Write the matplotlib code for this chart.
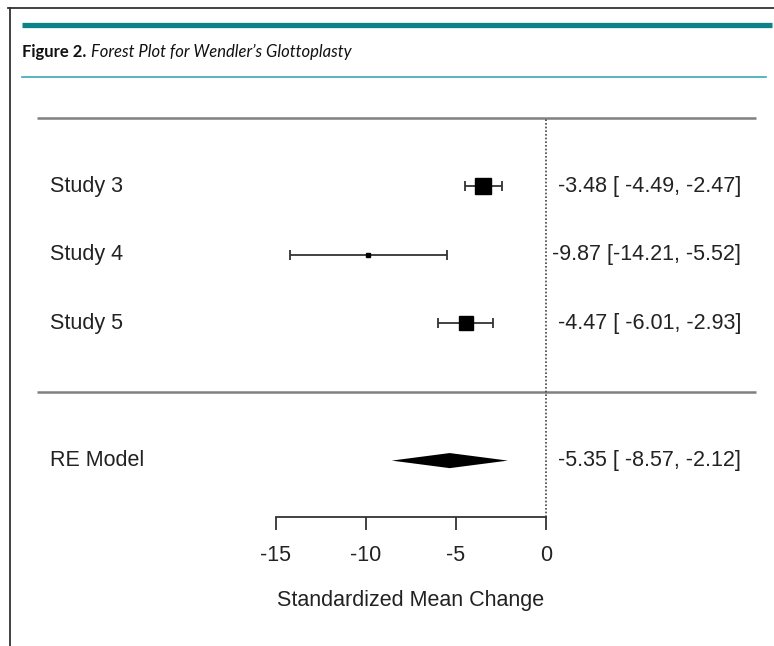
import matplotlib.pyplot as plt
from matplotlib.lines import Line2D
import numpy as np

# forest plot data
studies = ['Study 3', 'Study 4', 'Study 5']
est = [-3.48, -9.87, -4.47]
ci_lo = [-4.49, -14.21, -6.01]
ci_hi = [-2.47, -5.52, -2.93]
re_label = 'RE Model'
re_est = -5.35
re_lo = -8.57
re_hi = -2.12
xticks = [-15, -10, -5, 0]
xlabel = 'Standardized Mean Change'
tau2 = 6.6  # between-study variance, guessed from the box sizes

W, H = 774, 646
fig = plt.figure(figsize=(W / 100, H / 100), dpi=100)
plt.rcParams['font.family'] = ['Liberation Sans', 'DejaVu Sans']

# pixel helpers for the layout: x0 at px 546, 18 px per unit; row 0 at px 392, 68.6 px per row
def px2x(p):
	return (p - 546) / 18.0

def px2row(p):
	return (392 - p) / 68.6

# ---- frame and header ----
fig.add_artist(Line2D([8 / W, 1], [1 - 7.5 / H] * 2, color='#333333', lw=1.3))
fig.add_artist(Line2D([9.5 / W] * 2, [0, 1 - 7.5 / H], color='#333333', lw=1.3))
fig.add_artist(Line2D([22 / W, 772 / W], [1 - 25.3 / H] * 2, color='#0b8389', lw=3.8, solid_capstyle='butt'))
fig.add_artist(Line2D([22 / W, 766 / W], [1 - 76.5 / H] * 2, color='#3aa9b0', lw=1.2))

ax = fig.add_axes([0, (H - 517) / H, 1, (517 - 100) / H])
ax.set_xlim(px2x(0), px2x(W))
ax.set_ylim(px2row(517), px2row(100))

t1 = ax.text(22 / W, 1 - 60 / H, 'Figure 2.', transform=fig.transFigure, fontfamily='Lato',
	fontweight='bold', fontsize=12, color='#111111', va='bottom', ha='left')
ax.annotate('Forest Plot for Wendler\u2019s Glottoplasty', xy=(1, 0), xycoords=t1,
	xytext=(3, 0), textcoords='offset points', fontfamily='Lato', fontstyle='italic',
	fontsize=12, color='#111111', va='bottom', ha='left')

# ---- forest plot ----
k = len(studies)
rows = np.arange(k, 0, -1)
re_row = -1
fs = 15.5
tcol = '#222222'

lx, rx = px2x(37), px2x(756)
ax.hlines([k + 1, 0], lx, rx, color='#808080', lw=1.8)
ax.vlines(0, px2row(517), k + 1, color='#444444', lw=1.2, linestyles=(0, (1, 1.2)))

se = (np.array(ci_hi) - np.array(ci_lo)) / (2 * 1.96)
w = 1.0 / (se ** 2 + tau2)
size_px = 3.5 + 12.5 * (w - w.min()) / (w.max() - w.min())

for i in range(k):
	ax.errorbar(est[i], rows[i], xerr=[[est[i] - ci_lo[i]], [ci_hi[i] - est[i]]],
		fmt='none', ecolor='#333333', elinewidth=1.3, capsize=3.5, capthick=1.3)
	ax.plot(est[i], rows[i], 's', color='black', markersize=size_px[i] * 0.72)
	ax.text(px2x(50), rows[i], studies[i], fontsize=fs, color=tcol, va='center', ha='left')
	ax.text(px2x(741), rows[i], f'{est[i]:.2f} [{ci_lo[i]:6.2f}, {ci_hi[i]:5.2f}]',
		fontsize=fs, color=tcol, va='center', ha='right')

dh = 0.11
ax.fill([re_lo, re_est, re_hi, re_est], [re_row, re_row + dh, re_row, re_row - dh], color='black', lw=0)
ax.text(px2x(50), re_row, re_label, fontsize=fs, color=tcol, va='center', ha='left')
ax.text(px2x(741), re_row, f'{re_est:.2f} [{re_lo:6.2f}, {re_hi:5.2f}]',
	fontsize=fs, color=tcol, va='center', ha='right')

# ---- x axis ----
for s in ['top', 'left', 'right']:
	ax.spines[s].set_visible(False)
ax.spines['bottom'].set_bounds(xticks[0], xticks[-1])
ax.spines['bottom'].set_color('#333333')
ax.spines['bottom'].set_linewidth(1.3)
ax.set_xticks(xticks)
ax.set_xticklabels([str(t) for t in xticks])
ax.set_yticks([])
ax.tick_params(axis='x', direction='out', length=9, width=1.3, color='#333333',
	labelsize=fs, labelcolor=tcol, pad=11)
ax.set_xlabel(xlabel, fontsize=fs, color=tcol)
# centre the label under the axis range rather than the whole figure
xc = ax.transAxes.inverted().transform(ax.transData.transform(((xticks[0] + xticks[-1]) / 2, 0)))[0]
ax.xaxis.set_label_coords(xc, -0.175)

fig.savefig('out.png', dpi=100)
